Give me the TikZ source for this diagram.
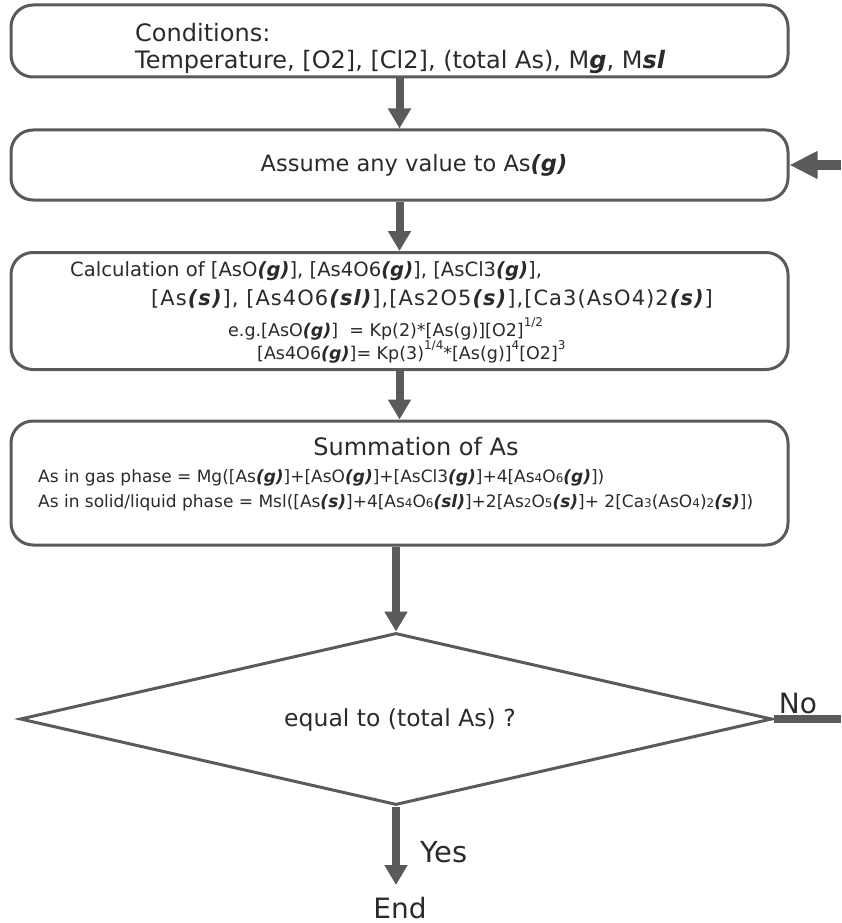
\documentclass[tikz,border=0pt]{standalone}
\usepackage{fontspec}
\setmainfont{DejaVu Sans}
\usetikzlibrary{arrows.meta,shapes.geometric}
\definecolor{ln}{HTML}{5A5A5A}
\definecolor{tx}{HTML}{2A2A2A}
\newcommand{\bi}[1]{\textbf{\textit{#1}}}
\newcommand{\sd}[1]{{\fontsize{12}{12}\selectfont #1}}
\newcommand{\upr}[1]{\raisebox{0.55em}{\fontsize{12}{12}\selectfont #1}}
\newcommand{\fs}[1]{\fontsize{#1}{#1}\selectfont}
\begin{document}
\begin{tikzpicture}[x=1pt,y=-1pt,
  box/.style={draw=ln,line width=3pt,rounded corners=22pt,minimum width=777pt,inner sep=0pt},
  txt/.style={text=tx,inner sep=0pt},
  flow/.style={draw=ln,line width=8pt,-{Triangle[width=22pt,length=20pt,fill=ln]}},
  flowb/.style={draw=ln,line width=10pt,-{Triangle[width=26pt,length=28pt,fill=ln]}}]
\useasboundingbox (0,0) rectangle (841,923);
% boxes
\node[box,minimum height=72pt] (b1) at (399.5,41) {};
\node[box,minimum height=70pt] (b2) at (399.5,165) {};
\node[box,minimum height=117pt] (b3) at (399.5,311) {};
\node[box,minimum height=124pt] (b4) at (399.5,483) {};
\node[draw=ln,line width=3pt,diamond,minimum width=752pt,minimum height=172pt,inner sep=0pt] (d) at (396,719) {};
% texts
\node[txt,anchor=west,font=\fs{24}] (t1a) at (135,33) {Conditions:};
\node[txt,anchor=west,font=\fs{24}] (t1b) at (135,62) {Temperature, [O2], [Cl2], (total As), M\bi{g}, M\bi{sl}};
\node[txt,font=\fs{22.5}] (t2) at (414,165) {Assume any value to As\bi{(g)}};
\node[txt,anchor=west,font=\fs{19.6}] (t3a) at (70,271) {Calculation of [AsO\bi{(g)}], [As4O6\bi{(g)}], [AsCl3\bi{(g)}],};
\node[txt,anchor=west,font=\fs{21}\addfontfeature{LetterSpace=5}] (t3b) at (151,299) {[As\bi{(s)}], [As4O6\bi{(sl)}],[As2O5\bi{(s)}],[Ca3(AsO4)2\bi{(s)}]};
\node[txt,anchor=west,font=\fs{17.5}] (t3c) at (228,329) {e.g.[AsO\bi{(g)}]~~= Kp(2)*[As(g)][O2]\upr{1/2}};
\node[txt,anchor=west,font=\fs{17.5}] (t3d) at (257,352) {[As4O6\bi{(g)}]= Kp(3)\upr{1/4}*[As(g)]\upr{4}[O2]\upr{3}};
\node[txt,font=\fs{24}] (t4) at (416,447) {Summation of As};
\node[txt,anchor=west,font=\fs{17}] (t4a) at (38,478) {As in gas phase = Mg([As\bi{(g)}]+[AsO\bi{(g)}]+[AsCl3\bi{(g)}]+4[As\sd{4}O\sd{6}\bi{(g)}])};
\node[txt,anchor=west,font=\fs{17}] (t4b) at (38,503) {As in solid/liquid phase = Msl([As\bi{(s)}]+4[As\sd{4}O\sd{6}\bi{(sl)}]+2[As\sd{2}O\sd{5}\bi{(s)}]+ 2[Ca\sd{3}(AsO\sd{4})\sd{2}\bi{(s)}])};
\node[txt,font=\fs{23.5}] (t5) at (400,720) {equal to (total As) ?};
\node[txt,font=\fs{28},anchor=base] (no) at (798,713) {No};
\node[txt,font=\fs{29},anchor=base] (yes) at (444,862) {Yes};
\node[txt,font=\fs{28},anchor=base] (end) at (400,918) {End};
% connectors
\coordinate (loop) at (841,165);
\coordinate (noend) at (841,719);
\coordinate (yesend) at (396,885);
\draw[flow] (b1.south) -- (b2.north);
\draw[flow] (b2.south) -- (b3.north);
\draw[flow] (b3.south) -- (b4.north);
\draw[flow] (d.north |- b4.south) -- (d.north);
\draw[flow] (d.south) -- (yesend);
\draw[draw=ln,line width=8pt] (d.east) -- (noend);
\draw[flowb] (loop) -- (b2.east);
\end{tikzpicture}
\end{document}
